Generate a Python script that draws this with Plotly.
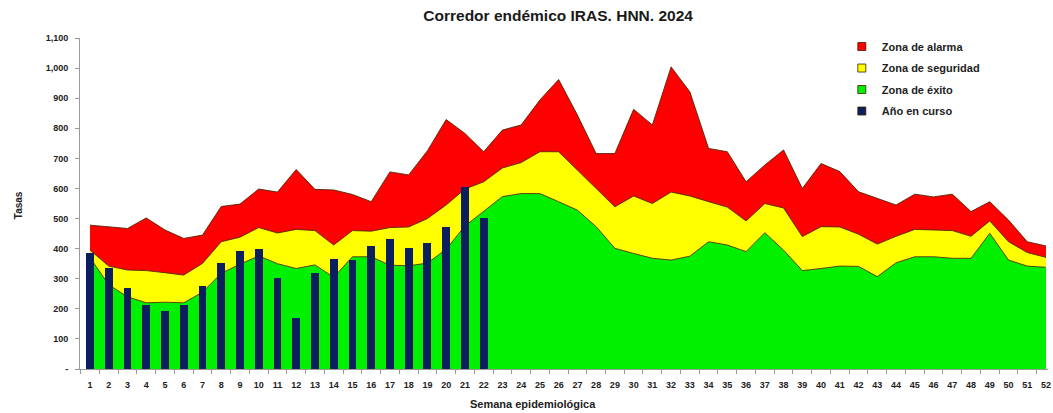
import plotly.graph_objects as go

weeks = list(range(1, 53))

# top of each zone (tasas)
exito = [370, 280, 240, 220, 222, 220, 255, 318, 348, 376, 350, 334, 346, 305, 373, 373, 345, 343, 352, 398,
         475, 523, 573, 583, 583, 556, 528, 473, 401, 384, 368, 362, 375, 423, 412, 390, 453, 395, 327, 334,
         342, 341, 307, 353, 373, 373, 368, 368, 451, 362, 342, 338]
seguridad = [395, 342, 329, 327, 320, 312, 351, 423, 438, 470, 452, 464, 460, 412, 460, 458, 470, 472, 500, 545,
             598, 622, 668, 686, 722, 722, 661, 600, 539, 575, 550, 588, 575, 556, 538, 492, 550, 535, 440, 473,
             472, 448, 415, 441, 464, 462, 460, 441, 492, 423, 387, 371]
alarma = [478, 473, 467, 502, 462, 434, 445, 540, 548, 598, 588, 663, 597, 595, 580, 556, 655, 645, 725, 829,
          783, 722, 794, 811, 894, 962, 844, 716, 716, 863, 811, 1004, 921, 733, 722, 622, 678, 728, 600, 683,
          656, 589, 567, 545, 581, 572, 581, 523, 556, 495, 423, 409]
anio_weeks = list(range(1, 23))
anio_en_curso = [385, 337, 269, 213, 194, 213, 277, 353, 392, 398, 301, 168, 318, 365, 363, 409, 431, 401, 418, 471,
                 604, 501]

ytick_vals = [0, 100, 200, 300, 400, 500, 600, 700, 800, 900, 1000, 1100]
ytick_text = ["-", "100", "200", "300", "400", "500", "600", "700", "800", "900", "1,000", "1,100"]

RED = "#FF0000"
YELLOW = "#FFFF00"
GREEN = "#00F000"
NAVY = "#0B1F5E"
EDGE = "rgba(70,35,0,0.85)"
FONT = "Liberation Sans, Arial, sans-serif"

fig = go.Figure()
fig.add_trace(go.Scatter(x=weeks, y=exito, mode="lines", fill="tozeroy", fillcolor=GREEN,
                         line=dict(color=EDGE, width=1), showlegend=False, hoverinfo="skip"))
fig.add_trace(go.Scatter(x=weeks, y=seguridad, mode="lines", fill="tonexty", fillcolor=YELLOW,
                         line=dict(color=EDGE, width=1), showlegend=False, hoverinfo="skip"))
fig.add_trace(go.Scatter(x=weeks, y=alarma, mode="lines", fill="tonexty", fillcolor=RED,
                         line=dict(color=EDGE, width=1), showlegend=False, hoverinfo="skip"))

# bars on an overlaying axis so they are drawn above the areas
fig.add_trace(go.Bar(x=anio_weeks, y=anio_en_curso, marker=dict(color=NAVY, line=dict(width=0)),
                     width=0.42, xaxis="x2", yaxis="y2", showlegend=False))

# legend entries
legend_items = [("Zona de alarma", RED), ("Zona de seguridad", YELLOW),
                ("Zona de éxito", GREEN), ("Año en curso", NAVY)]
for name, col in legend_items:
    fig.add_trace(go.Scatter(x=[None], y=[None], mode="markers", name=name, legendgroup=name,
                             marker=dict(symbol="square", size=8, color=col,
                                         line=dict(color="rgba(60,30,0,0.8)", width=1))))

xr = [0.4665, 52.106]
yr = [0, 1100]
tickfont = dict(family=FONT, size=9, color="#222222", weight="bold")

fig.update_layout(
    width=1053, height=413,
    margin=dict(l=80, r=5, t=38, b=44, autoexpand=False),
    paper_bgcolor="white", plot_bgcolor="white",
    title=dict(text="Corredor endémico IRAS. HNN. 2024", x=0.530, xanchor="center", y=0.962, yanchor="middle",
               font=dict(family=FONT, size=15.5, color="#1a1a1a", weight="bold")),
    xaxis=dict(range=xr, tickmode="array", tickvals=weeks, ticktext=[str(w) for w in weeks],
               showgrid=False, zeroline=False, showline=True, linecolor="#9a9a9a", linewidth=1,
               ticks="", tickfont=tickfont, automargin=False, ticklabelstandoff=7,
               minor=dict(tickvals=[w + 0.5 for w in [0] + weeks], ticks="outside", ticklen=4,
                          tickcolor="#9a9a9a")),
    yaxis=dict(range=yr, tickmode="array", tickvals=ytick_vals, ticktext=ytick_text, automargin=False,
               showgrid=False, zeroline=False, showline=True, linecolor="#9a9a9a", linewidth=1,
               ticks="outside", ticklen=4, tickcolor="#9a9a9a", tickfont=tickfont, ticklabelstandoff=5),
    xaxis2=dict(range=xr, overlaying="x", visible=False, automargin=False),
    yaxis2=dict(range=yr, overlaying="y", visible=False, automargin=False),
    bargap=0,
    legend=dict(x=0.787, y=1.018, xanchor="left", yanchor="top", bgcolor="rgba(0,0,0,0)",
                font=dict(family=FONT, size=11, color="#222222", weight="bold"),
                tracegroupgap=2.5, itemwidth=30),
    annotations=[
        dict(text="Semana epidemiológica", xref="paper", yref="paper", x=0.468, y=-0.106,
             xanchor="center", yanchor="middle",
             showarrow=False, font=dict(family=FONT, size=11, color="#222222", weight="bold")),
        dict(text="Tasas", xref="paper", yref="paper", x=-0.064, y=0.495, textangle=-90,
             xanchor="center", yanchor="middle",
             showarrow=False, font=dict(family=FONT, size=10, color="#222222", weight="bold")),
    ],
)

fig.write_html("out.html", config={"displayModeBar": False},
               post_script="document.body.style.margin='0';")
